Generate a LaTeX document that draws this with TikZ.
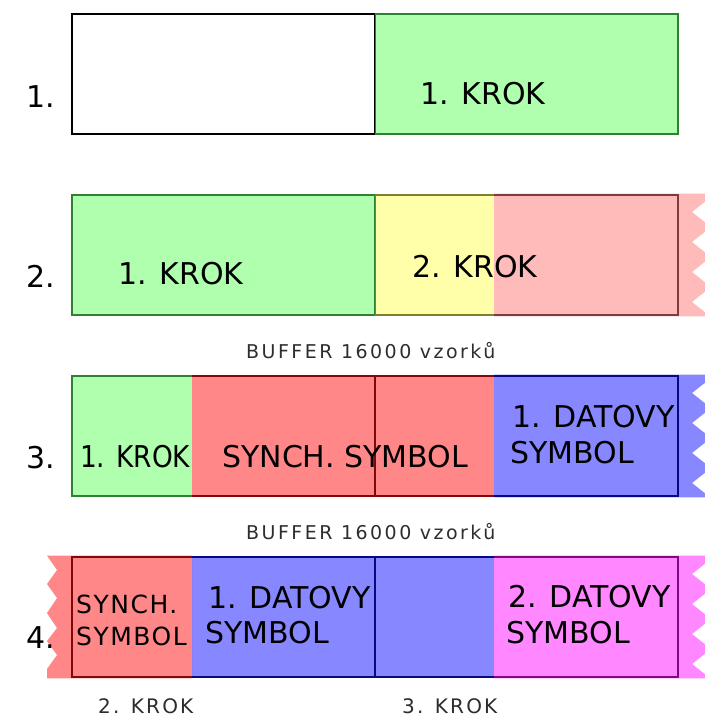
\documentclass[tikz,border=0pt]{standalone}
\usepackage{fontspec}
\setmainfont{DejaVu Sans}
\definecolor{kgreen}{RGB}{96,255,96}
\definecolor{kyellow}{RGB}{255,255,85}
\definecolor{kpink}{RGB}{255,119,119}
\definecolor{kred}{RGB}{255,17,17}
\definecolor{kblue}{RGB}{17,17,255}
\definecolor{kmag}{RGB}{255,17,255}
\definecolor{notegray}{RGB}{45,45,45}
\begin{document}
\begin{tikzpicture}[x=1pt,y=-1pt,
  frame/.style={draw=black,line width=2.7pt},
  tint/.style={fill opacity=0.5},
  big/.style={font=\fontsize{30}{34}\selectfont,inner sep=0pt,anchor=base west},
  small/.style={font=\fontsize{25}{30}\selectfont\addfontfeature{LetterSpace=6},inner sep=0pt,anchor=base west},
  buf/.style={font=\fontsize{19}{22}\selectfont\addfontfeature{LetterSpace=13},text=notegray,inner sep=0pt,anchor=base west},
  krok/.style={font=\fontsize{20}{24}\selectfont\addfontfeature{LetterSpace=11},text=notegray,inner sep=0pt,anchor=base west},
]
\useasboundingbox (0,0) rectangle (704,717);
\fill[white] (0,0) rectangle (704,717);

% ---------- row 1
\draw[frame] (72,14) rectangle (678,134) (375,14) -- (375,134);
\fill[kgreen,tint] (375,12.6) rectangle (679.4,135.4);
\node[big] (l1) at (26,107) {1.};
\node[big] (r1k) at (420,104) {1. KROK};

% ---------- row 2
\draw[frame] (72,195) rectangle (678,315) (375,195) -- (375,315);
\fill[kgreen,tint] (70.6,193.6) rectangle (375,316.4);
\fill[kyellow,tint] (375,193.6) rectangle (494,316.4);
\fill[kpink,tint] (494,193.6) -- (711,193.6) -- (711,197) -- (692,212) -- (711,227) -- (692,242)
  -- (711,257) -- (692,272) -- (711,287) -- (692,302) -- (711,317) -- (711,316.4) -- (494,316.4) -- cycle;
\node[big] (l2) at (26,287) {2.};
\node[big] (r2k1) at (118,284) {1. KROK};
\node[big] (r2k2) at (412,277) {2. KROK};

\node[buf] (buf1) at (246,358) {BUFFER 16000 vzorků};

% ---------- row 3
\draw[frame] (72,376) rectangle (678,496) (375,376) -- (375,496);
\fill[kgreen,tint] (70.6,374.6) rectangle (192,497.4);
\fill[kred,tint] (192,374.6) rectangle (494,497.4);
\fill[kblue,tint] (494,374.6) -- (711,374.6) -- (711,378) -- (692,393) -- (711,408) -- (692,423)
  -- (711,438) -- (692,453) -- (711,468) -- (692,483) -- (711,498) -- (711,497.4) -- (494,497.4) -- cycle;
\node[big] (l3) at (26,468) {3.};
\node[big] (r3k) at (80,467) {\scalebox{0.88}[1]{1. KROK}};
\node[big] (r3s) at (222,467) {SYNCH. SYMBOL};
\node[big] (r3d1) at (512,427) {1. DATOVY};
\node[big] (r3d2) at (510,463) {SYMBOL};

\node[buf] (buf2) at (246,539) {BUFFER 16000 vzorků};

% ---------- row 4
\draw[frame] (72,557) rectangle (678,677) (375,557) -- (375,677);
\fill[kred,tint] (192,555.6) -- (47,555.6) -- (57,570) -- (47,584) -- (57,598) -- (47,613)
  -- (57,628) -- (47,641) -- (57,655) -- (47,669) -- (47,678.4) -- (192,678.4) -- cycle;
\fill[kblue,tint] (192,555.6) rectangle (494,678.4);
\fill[kmag,tint] (494,555.6) -- (711,555.6) -- (711,559) -- (692,574) -- (711,589) -- (692,604)
  -- (711,619) -- (692,634) -- (711,649) -- (692,664) -- (711,679) -- (711,678.4) -- (494,678.4) -- cycle;
\node[big] (l4) at (26,648) {4.};
\node[small] (r4s1) at (76,613) {SYNCH.};
\node[small] (r4s2) at (76,645) {SYMBOL};
\node[big] (r4a1) at (208,608) {1. DATOVY};
\node[big] (r4a2) at (205,643) {SYMBOL};
\node[big] (r4b1) at (508,607) {2. DATOVY};
\node[big] (r4b2) at (506,643) {SYMBOL};

\node[krok] (k2) at (98,713) {2. KROK};
\node[krok] (k3) at (402,713) {3. KROK};
\end{tikzpicture}
\end{document}
